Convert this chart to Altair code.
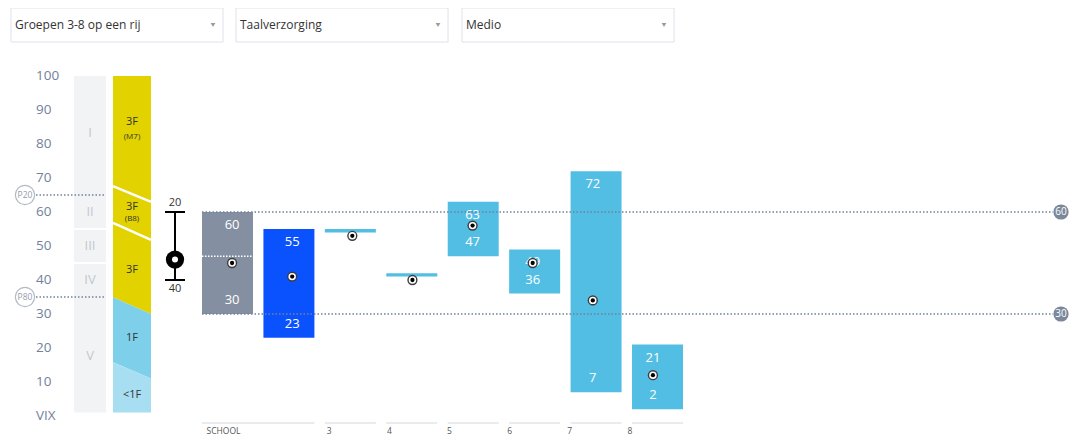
import math
import altair as alt
import pandas as pd

# ---------------- data ----------------
dropdown_labels = ["Groepen 3-8 op een rij", "Taalverzorging", "Medio"]

y_ticks = [0, 10, 20, 30, 40, 50, 60, 70, 80, 90, 100]
y_tick_labels = ["VIX", "10", "20", "30", "40", "50", "60", "70", "80", "90", "100"]

level_names = ["I", "II", "III", "IV", "V"]
level_label_values = [83.3, 60.0, 50.0, 40.0, 17.7]
level_block_top = [100, 54.7, 44.7]
level_block_bottom = [55.3, 45.3, 1]

f_band_names = ["3F (M7)", "3F (B8)", "3F", "1F", "<1F"]
f_bound_left = [100, 67.6, 56.8, 34.9, 15.8, 1]
f_bound_right = [100, 63.0, 51.8, 30.0, 11.0, 1]
f_main_labels = ["3F", "3F", "3F", "1F", "<1F"]
f_main_label_values = [86.5, 61.6, 42.9, 23.0, 6.1]
f_sub_labels = ["(M7)", "(B8)"]
f_sub_label_values = [82.2, 57.9]

p_labels = ["P20", "P80"]
p_values = [65, 35]

ref_values = [60, 30]

whisker_hi = 60
whisker_lo = 40
whisker_mid = 46
whisker_labels = ["20", "40"]

col_ids = ["school_ref", "school", "3", "4", "5", "6", "7", "8"]
col_hi = [60, 55, 55, 42, 63, 49, 72, 21]
col_lo = [30, 23, 54, 41, 47, 36, 7, 2]
col_pt = [45, 41, 53, 40, 56, 45, 34, 12]
school_median = 47

group_start = ["school_ref", "3", "4", "5", "6", "7", "8"]
group_end = ["school", "3", "4", "5", "6", "7", "8"]
group_names = ["SCHOOL", "3", "4", "5", "6", "7", "8"]

# ---------------- styles ----------------
FONT = "Open Sans"
SLATE = "#72819a"
col_colors = ["#848fa1", "#0b52ff", "#52bee3", "#52bee3", "#52bee3", "#52bee3", "#52bee3", "#52bee3"]
f_colors = ["#e1d200", "#e1d200", "#e1d200", "#7ecfea", "#a8def1"]

Y = alt.Scale(domain=[0, 100], range=[408, 68], nice=False, zero=False)
XB = alt.Scale(domain=col_ids, range=[194, 675], paddingInner=0.17, paddingOuter=0)
XF = alt.Scale(domain=[0, 1], range=[105, 143], nice=False, zero=False)
HALF_BAND = 25.5


def yq(field):
    return alt.Y(f"{field}:Q", scale=Y, axis=None)


layers = []

# dropdowns
dd_x = [(3, 215), (228, 440), (454, 666)]
for label, (x0, x1) in zip(dropdown_labels, dd_x):
    d = pd.DataFrame({"label": [label]})
    layers.append(alt.Chart(d).mark_rect(fill="white", stroke="#dde2ea", strokeWidth=1).encode(
        x=alt.value(x0), x2=alt.value(x1), y=alt.value(0), y2=alt.value(34)))
    layers.append(alt.Chart(d).mark_text(align="left", baseline="middle", fontSize=12, color="#333333", font=FONT).encode(
        x=alt.value(x0 + 4), y=alt.value(17), text="label:N"))
    layers.append(alt.Chart(d).mark_point(shape="triangle-down", filled=True, size=22, color="#707070").encode(
        x=alt.value(x1 - 10), y=alt.value(17)))

# y tick labels
ticks = pd.DataFrame({"v": y_ticks, "t": y_tick_labels})
layers.append(alt.Chart(ticks).mark_text(align="left", baseline="middle", fontSize=13.5, color=SLATE, font=FONT).encode(
    x=alt.value(28), y=yq("v"), text="t:N"))

# level column
lb = pd.DataFrame({"top": level_block_top, "bot": level_block_bottom})
layers.append(alt.Chart(lb).mark_rect(color="#f2f3f5").encode(
    x=alt.value(66), x2=alt.value(98), y=yq("top"), y2=alt.Y2("bot")))
ll = pd.DataFrame({"v": level_label_values, "t": level_names})
layers.append(alt.Chart(ll).mark_text(align="center", baseline="middle", fontSize=13, color="#c3c7cf", font=FONT).encode(
    x=alt.value(82), y=yq("v"), text="t:N"))

# P20 / P80 markers
pl = pd.DataFrame({"v": p_values, "t": p_labels})
layers.append(alt.Chart(pl).mark_rule(color=SLATE, strokeWidth=1.5, strokeDash=[1.5, 2]).encode(
    x=alt.value(28), x2=alt.value(98), y=yq("v")))
layers.append(alt.Chart(pl).mark_point(shape="circle", filled=True, fill="white", stroke="#b1b9c6", strokeWidth=1.2, size=370, opacity=1).encode(
    x=alt.value(17), y=yq("v")))
layers.append(alt.Chart(pl).mark_text(align="center", baseline="middle", fontSize=8.5, color="#939cac", font=FONT).encode(
    x=alt.value(17), y=yq("v"), text="t:N"))

# F-level column (slanted bands), one area per band
for i, name in enumerate(f_band_names):
    band_df = pd.DataFrame({
        "xp": [0, 1],
        "top": [f_bound_left[i], f_bound_right[i]],
        "bot": [f_bound_left[i + 1], f_bound_right[i + 1]],
    })
    layers.append(alt.Chart(band_df).mark_area(color=f_colors[i], opacity=1, line=False).encode(
        x=alt.X("xp:Q", scale=XF, axis=None),
        y=yq("top"), y2=alt.Y2("bot")))
for i in [1, 2]:
    sep_df = pd.DataFrame({"xp": [0, 1], "v": [f_bound_left[i], f_bound_right[i]]})
    layers.append(alt.Chart(sep_df).mark_line(color="white", strokeWidth=2.5).encode(
        x=alt.X("xp:Q", scale=XF, axis=None), y=yq("v")))
fm = pd.DataFrame({"v": f_main_label_values, "t": f_main_labels})
layers.append(alt.Chart(fm).mark_text(align="center", baseline="middle", fontSize=11, color="#333333", font=FONT).encode(
    x=alt.value(124), y=yq("v"), text="t:N"))
fsub = pd.DataFrame({"v": f_sub_label_values, "t": f_sub_labels})
layers.append(alt.Chart(fsub).mark_text(align="center", baseline="middle", fontSize=8, color="#333333", font=FONT).encode(
    x=alt.value(124), y=yq("v"), text="t:N"))

# whisker
wk = pd.DataFrame({"hi": [whisker_hi], "lo": [whisker_lo], "mid": [whisker_mid]})
layers.append(alt.Chart(wk).mark_rule(color="black", strokeWidth=2).encode(
    x=alt.value(167), y=yq("hi"), y2=alt.Y2("lo")))
caps = pd.DataFrame({"v": [whisker_hi, whisker_lo], "t": whisker_labels, "d": ["up", "down"]})
layers.append(alt.Chart(caps).mark_rule(color="black", strokeWidth=2).encode(
    x=alt.value(157), x2=alt.value(177), y=yq("v")))
layers.append(alt.Chart(caps).transform_filter("datum.d == 'up'").mark_text(
    align="center", baseline="middle", fontSize=11, color="#333333", font=FONT, dy=-9).encode(
    x=alt.value(167), y=yq("v"), text="t:N"))
layers.append(alt.Chart(caps).transform_filter("datum.d == 'down'").mark_text(
    align="center", baseline="middle", fontSize=11, color="#333333", font=FONT, dy=9).encode(
    x=alt.value(167), y=yq("v"), text="t:N"))
layers.append(alt.Chart(wk).mark_circle(color="black", size=math.pi * 10.3 ** 2, opacity=1).encode(
    x=alt.value(167), y=yq("mid")))
layers.append(alt.Chart(wk).mark_circle(color="white", size=math.pi * 3.4 ** 2, opacity=1).encode(
    x=alt.value(167), y=yq("mid")))

# columns
cols = pd.DataFrame({"id": col_ids, "hi": col_hi, "lo": col_lo, "pt": col_pt})
xb = alt.X("id:N", scale=XB, axis=None)
layers.append(alt.Chart(cols).mark_bar(opacity=1).encode(
    x=xb, y=yq("hi"), y2=alt.Y2("lo"),
    color=alt.Color("id:N", scale=alt.Scale(domain=col_ids, range=col_colors), legend=None)))
big = alt.Chart(cols).transform_filter("datum.hi - datum.lo >= 5")
layers.append(big.mark_text(align="center", baseline="middle", fontSize=13, color="white", font=FONT, dy=13).encode(
    x=xb, y=yq("hi"), text="hi:Q"))
layers.append(big.mark_text(align="center", baseline="middle", fontSize=13, color="white", font=FONT, dy=-14).encode(
    x=xb, y=yq("lo"), text="lo:Q"))

# school median dotted line
med = pd.DataFrame({"id": ["school_ref"], "v": [school_median]})
layers.append(alt.Chart(med).mark_rule(color="white", strokeWidth=1.5, strokeDash=[1.5, 1.5]).encode(
    x=alt.X("id:N", scale=XB, axis=None, bandPosition=0),
    x2=alt.X2("id", bandPosition=1), y=yq("v")))

# reference dotted lines with end badges
rl = pd.DataFrame({"v": ref_values})
layers.append(alt.Chart(rl).mark_rule(color=SLATE, strokeWidth=1.5, strokeDash=[1.5, 2]).encode(
    x=alt.value(194), x2=alt.value(1045), y=yq("v")))
layers.append(alt.Chart(rl).mark_circle(color="#7b889c", size=math.pi * 8.6 ** 2, opacity=1).encode(
    x=alt.value(1053), y=yq("v")))
layers.append(alt.Chart(rl).mark_text(align="center", baseline="middle", fontSize=10, color="white", font=FONT).encode(
    x=alt.value(1053), y=yq("v"), text="v:Q"))

# target points
for sz, colr in [(math.pi * 5.8 ** 2, "#3d3d3d"), (math.pi * 4.2 ** 2, "white"), (math.pi * 2.4 ** 2, "black")]:
    layers.append(alt.Chart(cols).mark_circle(color=colr, size=sz, opacity=1).encode(
        x=xb, y=yq("pt")))

# column group underlines and labels
grp = pd.DataFrame({"a": group_start, "b": group_end, "name": group_names})
layers.append(alt.Chart(grp).mark_rect(color="#e9ebef").encode(
    x=alt.X("a:N", scale=XB, axis=None, bandPosition=0),
    x2=alt.X2("b", bandPosition=1),
    y=alt.value(414), y2=alt.value(416)))
layers.append(alt.Chart(grp).mark_text(align="left", baseline="top", fontSize=8.5, color="#555555", font=FONT,
                                       dx=-HALF_BAND).encode(
    x=alt.X("a:N", scale=XB, axis=None),
    y=alt.value(419), text="name:N"))

chart = alt.layer(*layers).resolve_scale(x="independent", color="independent").properties(
    width=1062, height=428, padding=0, autosize=alt.AutoSizeParams(type="none")
).configure(font=FONT).configure_view(stroke=None)

chart.save("out.html", embed_options={"renderer": "svg", "actions": False})
